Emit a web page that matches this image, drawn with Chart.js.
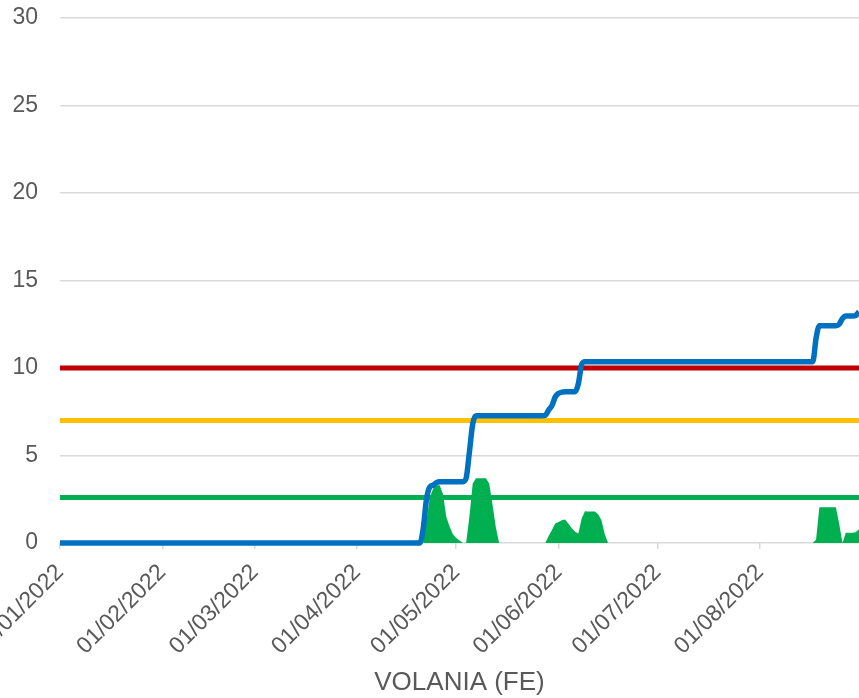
<!DOCTYPE html>
<html>
<head>
<meta charset="utf-8">
<script src="https://cdn.jsdelivr.net/npm/chart.js@4.4.0/dist/chart.umd.min.js"></script>
<style>
  body { margin: 0; background: #ffffff; }
  #wrap { width: 859px; height: 698px; }
</style>
</head>
<body>
<div id="wrap"><canvas id="chart"></canvas></div>
<script>
//Data, one value per day from 01/01/2022 to 31/08/2022

const monthTicks = ['01/01/2022', '01/02/2022', '01/03/2022', '01/04/2022',
  '01/05/2022', '01/06/2022', '01/07/2022', '01/08/2022'];

const yTicks = [0, 5, 10, 15, 20, 25, 30];

const axisTitle = 'VOLANIA (FE)';

//cumulative line (blue)
const cumulative = [
  // Jan
  0,0,0,0,0,0,0,0,0,0, 0,0,0,0,0,0,0,0,0,0, 0,0,0,0,0,0,0,0,0,0, 0,
  // Feb
  0,0,0,0,0,0,0,0,0,0, 0,0,0,0,0,0,0,0,0,0, 0,0,0,0,0,0,0,0,
  // Mar
  0,0,0,0,0,0,0,0,0,0, 0,0,0,0,0,0,0,0,0,0, 0,0,0,0,0,0,0,0,0,0, 0,
  // Apr
  0,0,0,0,0,0,0,0,0,0, 0,0,0,0,0,0,0,0,0,0, 0.8,2.5,3.2,3.3,3.45,3.5,3.5,3.5,3.5,3.5,
  // May
  3.5,3.5,3.5,3.7,5.2,6.8,7.27,7.27,7.27,7.27, 7.27,7.27,7.27,7.27,7.27,7.27,7.27,7.27,7.27,7.27,
  7.27,7.27,7.27,7.27,7.27,7.27,7.27,7.3,7.6,7.85, 8.35,
  // Jun
  8.55,8.62,8.65,8.65,8.65,8.65,9.1,10.2,10.36,10.36, 10.36,10.36,10.36,10.36,10.36,10.36,10.36,10.36,10.36,10.36,
  10.36,10.36,10.36,10.36,10.36,10.36,10.36,10.36,10.36,10.36,
  // Jul
  10.36,10.36,10.36,10.36,10.36,10.36,10.36,10.36,10.36,10.36, 10.36,10.36,10.36,10.36,10.36,10.36,10.36,10.36,10.36,10.36,
  10.36,10.36,10.36,10.36,10.36,10.36,10.36,10.36,10.36,10.36, 10.36,
  // Aug
  10.36,10.36,10.36,10.36,10.36,10.36,10.36,10.36,10.36,10.36, 10.36,10.36,10.36,10.36,10.36,10.36,10.36,11.7,12.42,12.42,
  12.42,12.42,12.42,12.42,12.5,12.83,12.97,12.97,12.97,13.0, 13.22
];

//daily values (green area)
const daily = [
  // Jan
  0,0,0,0,0,0,0,0,0,0, 0,0,0,0,0,0,0,0,0,0, 0,0,0,0,0,0,0,0,0,0, 0,
  // Feb
  0,0,0,0,0,0,0,0,0,0, 0,0,0,0,0,0,0,0,0,0, 0,0,0,0,0,0,0,0,
  // Mar
  0,0,0,0,0,0,0,0,0,0, 0,0,0,0,0,0,0,0,0,0, 0,0,0,0,0,0,0,0,0,0, 0,
  // Apr
  0,0,0,0,0,0,0,0,0,0, 0,0,0,0,0,0,0,0,0,0, 0,1.3,2.6,3.1,3.3,3.3,2.8,1.5,0.95,0.5,
  // May
  0.28,0.15,0,0,1.5,3.4,3.7,3.7,3.7,3.7, 3.4,2.2,0.9,0,0,0,0,0,0,0,
  0,0,0,0,0,0,0,0,0.4,0.75, 1.12,
  // Jun
  1.2,1.3,1.35,1.1,0.85,0.65,0.55,1.4,1.82,1.8, 1.8,1.8,1.65,1.3,0.5,0,0,0,0,0,
  0,0,0,0,0,0,0,0,0,0,
  // Jul
  0,0,0,0,0,0,0,0,0,0, 0,0,0,0,0,0,0,0,0,0, 0,0,0,0,0,0,0,0,0,0, 0,
  // Aug
  0,0,0,0,0,0,0,0,0,0, 0,0,0,0,0,0,0,0.2,2.04,2.04,
  2.04,2.04,2.04,2.04,1.1,0,0.59,0.59,0.59,0.62, 0.78
];

//threshold levels
const redLevel = 10;
const yellowLevel = 7;
const greenLevel = 2.6;

//Building the day categories

function buildDays(){
  const days = [];
  const d = new Date(2022, 0, 1);
  while (d.getFullYear() === 2022 && d.getMonth() < 8){
    const dd = String(d.getDate()).padStart(2, '0');
    const mm = String(d.getMonth() + 1).padStart(2, '0');
    days.push(`${dd}/${mm}/${d.getFullYear()}`);
    d.setDate(d.getDate() + 1);
  }
  return days;
}

const days = buildDays();
const flat = value => days.map(() => value);

const grey = '#595959';
const gridGrey = '#d9d9d9';

Chart.defaults.font.family = '"Liberation Sans", Arial, sans-serif';
Chart.defaults.color = grey;

const ctx = document.getElementById('chart').getContext('2d');

new Chart(ctx, {
  type: 'line',
  data: {
    labels: days,
    datasets: [
      {
        data: cumulative,
        borderColor: '#0070c0',
        borderWidth: 5.5,
        borderJoinStyle: 'round',
        borderCapStyle: 'butt',
        cubicInterpolationMode: 'monotone',
        pointRadius: 0,
        clip: false,
        fill: false
      },
      {
        data: flat(redLevel),
        borderColor: '#c00000',
        borderWidth: 5,
        pointRadius: 0,
        fill: false
      },
      {
        data: flat(yellowLevel),
        borderColor: '#ffc000',
        borderWidth: 5,
        pointRadius: 0,
        fill: false
      },
      {
        data: flat(greenLevel),
        borderColor: '#00b050',
        borderWidth: 5,
        pointRadius: 0,
        fill: false
      },
      {
        data: daily,
        borderWidth: 0,
        borderColor: 'rgba(0,0,0,0)',
        backgroundColor: '#00b050',
        pointRadius: 0,
        tension: 0,
        fill: 'origin'
      }
    ]
  },
  options: {
    responsive: true,
    maintainAspectRatio: false,
    animation: false,
    layout: { padding: { left: 0, right: 0, top: 18, bottom: 0 } },
    plugins: {
      legend: { display: false },
      tooltip: { enabled: false }
    },
    scales: {
      x: {
        offset: false,
        border: { display: false },
        grid: {
          drawOnChartArea: false,
          drawTicks: true,
          tickLength: 6,
          color: gridGrey,
          lineWidth: 1.5
        },
        ticks: {
          autoSkip: false,
          minRotation: 45,
          maxRotation: 45,
          padding: 10,
          color: grey,
          font: { size: 23 },
          callback: function(value){
            const label = days[value];
            return monthTicks.includes(label) ? label : null;
          }
        },
        title: {
          display: true,
          text: axisTitle,
          color: grey,
          font: { size: 26 },
          padding: { top: 0, bottom: 0 }
        },
        afterFit: function(scale){
          scale.paddingLeft = 0;
          scale.paddingRight = 0;
          scale.height = 155;
        }
      },
      y: {
        min: yTicks[0],
        max: yTicks[yTicks.length - 1],
        border: { display: false },
        grid: {
          drawTicks: false,
          color: gridGrey,
          lineWidth: 1.5
        },
        afterBuildTicks: function(scale){
          scale.ticks = yTicks.map(v => ({ value: v }));
        },
        ticks: {
          padding: 22,
          color: grey,
          font: { size: 23 }
        },
        afterFit: function(scale){
          scale.width = 60;
          scale.paddingTop = 0;
          scale.paddingBottom = 0;
        }
      }
    }
  }
});
</script>
</body>
</html>
